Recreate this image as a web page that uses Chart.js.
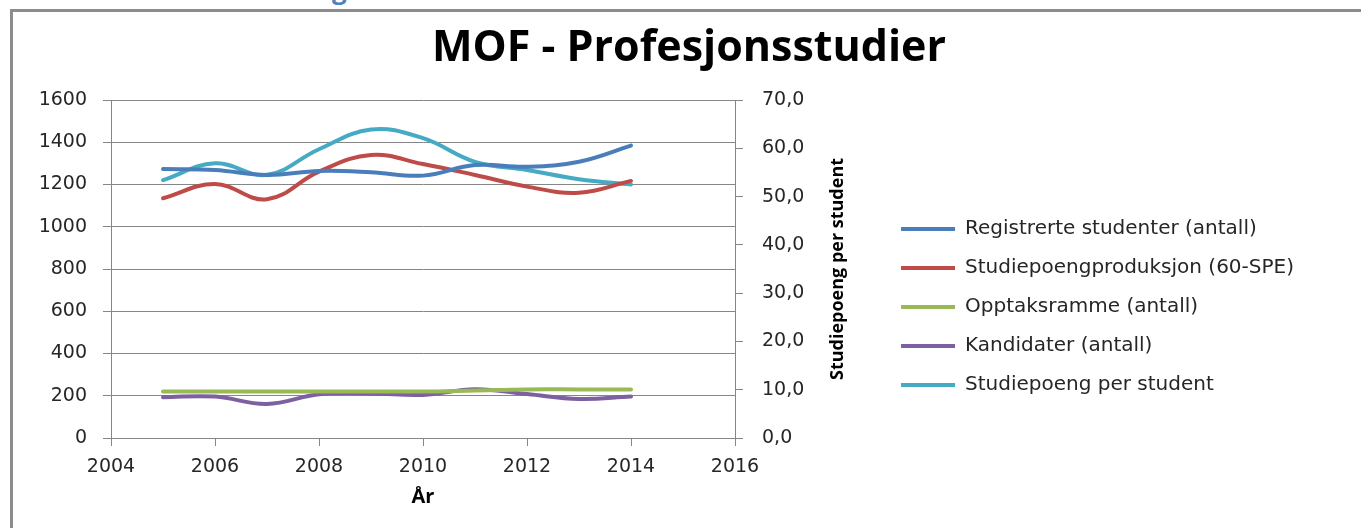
<!DOCTYPE html>
<html>
<head>
<meta charset="utf-8">
<script src="https://cdn.jsdelivr.net/npm/chart.js@4.4.1/dist/chart.umd.min.js"></script>
<style>
  body { margin: 0; background: #fff; }
  #wrap { position: absolute; left: 0; top: 0; width: 1361px; height: 528px; }
  #frame { position: absolute; left: 10px; top: 9px; right: 0; bottom: 0; border-left: 3px solid #8c8c8c; border-top: 3px solid #8c8c8c; }
  #head { position: absolute; left: 332px; top: -29px; font: bold 26px "Open Sans"; color: #4f81bd; }
</style>
</head>
<body>
<div id="head">g</div>
<div id="frame"></div>
<div id="wrap"><canvas id="chart"></canvas></div>
<script>
// MOF - Profesjonsstudier
const years = [2005, 2006, 2007, 2008, 2009, 2010, 2011, 2012, 2013, 2014];
const registrerte = [1273, 1269, 1245, 1264, 1258, 1242, 1292, 1284, 1308, 1384];
const produksjon = [1135, 1202, 1130, 1261, 1340, 1297, 1245, 1190, 1161, 1217];
const opptaksramme = [220, 220, 220, 220, 220, 220, 225, 230, 230, 230];
const kandidater = [193, 196, 161, 207, 211, 204, 231, 208, 185, 196];
const spPerStudent = [53.4, 56.9, 54.5, 59.8, 63.9, 62.1, 57.2, 55.5, 53.6, 52.5];

const labels = [
  "Registrerte studenter (antall)",
  "Studiepoengproduksjon (60-SPE)",
  "Opptaksramme (antall)",
  "Kandidater (antall)",
  "Studiepoeng per student",
];
const colors = ["#4a7ebb", "#be4b48", "#98b954", "#7d60a0", "#46aac5"];

const chartTitle = "MOF - Profesjonsstudier";
const rightAxisTitle = "Studiepoeng per student";

const gridColor = "#868686";
const textColor = "#262626";
const tickFont = { family: "DejaVu Sans", size: 19 };
const padLeft = 30;
const padRight = 57;

function series(values) {
  return values.map((v, i) => ({ x: years[i], y: v }));
}

function line(i, values, axis) {
  return {
    label: labels[i],
    data: series(values),
    yAxisID: axis,
    borderColor: colors[i],
    backgroundColor: colors[i],
    borderWidth: 4,
    borderCapStyle: "round",
    pointRadius: 0,
    tension: 0.4,
  };
}

// the chart title sits over the whole picture and the right axis title
// reads bottom to top, so both are drawn here
const titles = {
  id: "titles",
  afterDraw(chart) {
    const { ctx, chartArea } = chart;
    ctx.save();
    ctx.fillStyle = "#000";
    ctx.textAlign = "center";
    ctx.textBaseline = "middle";
    ctx.font = "bold 43px 'Open Sans'";
    ctx.fillText(chartTitle, 689, 49);
    ctx.translate(chartArea.right + 103, (chartArea.top + chartArea.bottom) / 2);
    ctx.rotate(-Math.PI / 2);
    ctx.font = "bold 18px 'Open Sans'";
    ctx.fillText(rightAxisTitle, 0, 0);
    ctx.restore();
  },
};

const ctx = document.getElementById("chart").getContext("2d");

new Chart(ctx, {
  type: "line",
  data: {
    datasets: [
      line(0, registrerte, "y"),
      line(1, produksjon, "y"),
      line(2, opptaksramme, "y"),
      line(3, kandidater, "y"),
      line(4, spPerStudent, "y1"),
    ],
  },
  plugins: [titles],
  options: {
    responsive: true,
    maintainAspectRatio: false,
    animation: false,
    layout: { padding: { top: 100, left: padLeft, right: padRight, bottom: 0 } },
    plugins: {
      title: { display: false },
      legend: {
        position: "right",
        align: "start",
        maxWidth: 600,
        // empty title only pushes the items down to where they sit in the picture
        title: { display: true, text: "", font: { size: 1 }, padding: { top: 0, bottom: 98.8 } },
        labels: {
          color: textColor,
          font: { family: "DejaVu Sans", size: 20 },
          boxWidth: 54,
          boxHeight: 4,
          padding: 19,
          generateLabels(chart) {
            return Chart.defaults.plugins.legend.labels
              .generateLabels(chart)
              .map((item) => ({ ...item, lineWidth: 0 }));
          },
        },
      },
      tooltip: { enabled: false },
    },
    scales: {
      x: {
        type: "linear",
        min: 2004,
        max: 2016,
        afterFit(scale) {
          scale.height = 90;
        },
        ticks: {
          stepSize: 2,
          color: textColor,
          font: tickFont,
          padding: 10,
          callback: (v) => String(v),
        },
        grid: { drawOnChartArea: false, color: gridColor, tickLength: 8 },
        border: { color: gridColor },
        title: {
          display: true,
          text: "År",
          color: "#000",
          font: { family: "Open Sans", size: 20, weight: "bold" },
          padding: { top: 0, bottom: 19 },
        },
      },
      y: {
        position: "left",
        min: 0,
        max: 1600,
        afterFit(scale) {
          scale.width = 111 - padLeft;
        },
        ticks: {
          stepSize: 200,
          color: textColor,
          font: tickFont,
          padding: 16,
          callback: (v) => String(v),
        },
        grid: { color: gridColor, tickLength: 8 },
        border: { color: gridColor },
      },
      y1: {
        position: "right",
        min: 0,
        max: 70,
        afterFit(scale) {
          const legendWidth = scale.chart.legend ? scale.chart.legend.width : 0;
          scale.width = Math.max(120, scale.chart.width - padRight - legendWidth - 735);
        },
        ticks: {
          stepSize: 10,
          color: textColor,
          font: tickFont,
          padding: 19,
          callback: (v) => v.toFixed(1).replace(".", ","),
        },
        grid: { drawOnChartArea: false, color: gridColor, tickLength: 8 },
        border: { color: gridColor },
      },
    },
  },
});
</script>
</body>
</html>
